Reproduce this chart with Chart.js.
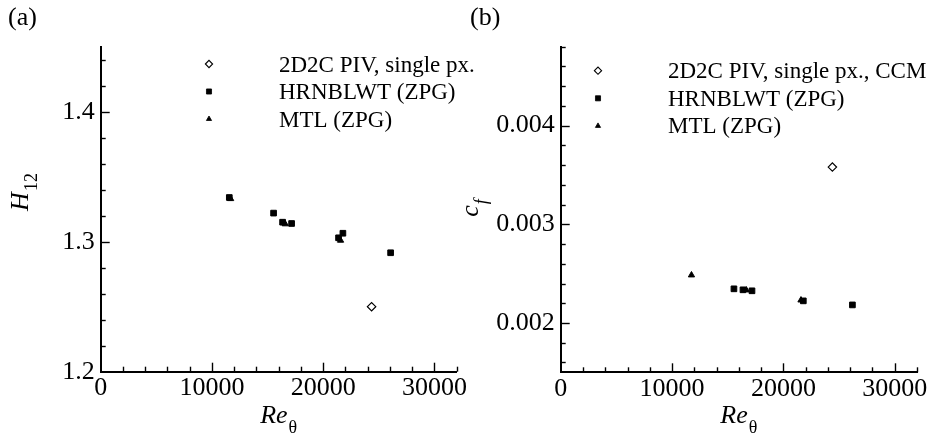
<!DOCTYPE html>
<html><head><meta charset="utf-8">
<script src="https://cdn.jsdelivr.net/npm/chart.js@4.4.0/dist/chart.umd.min.js"></script>
<style>
html,body{margin:0;padding:0;background:#fff;}
body{width:936px;height:437px;position:relative;overflow:hidden;}
canvas{position:absolute;top:0;}
#c1{left:0;} #c2{left:440px;}
</style></head><body>
<canvas id="c1" width="500" height="437"></canvas>
<canvas id="c2" width="496" height="437"></canvas>
<script>
// ---------- data: panel (a) H12 vs Re_theta ----------
const pivA_re  = [24350];
const pivA_H12 = [1.250];
const hrnA_re  = [11560, 15540, 16350, 17160, 21380, 21770, 26060];
const hrnA_H12 = [1.334, 1.322, 1.315, 1.314, 1.303, 1.3065, 1.2915];
const mtlA_re  = [11680, 16590, 21560];
const mtlA_H12 = [1.333, 1.3136, 1.301];

// ---------- data: panel (b) cf vs Re_theta ----------
const pivB_re = [24400];
const pivB_cf = [0.00358];
const hrnB_re = [15560, 16370, 17180, 21790, 26200];
const hrnB_cf = [0.002346, 0.002336, 0.002326, 0.002224, 0.002183];
const mtlB_re = [11745, 16670, 21580];
const mtlB_cf = [0.002485, 0.002333, 0.002231];

// ---------- tick labels / legends ----------
const xTickVals  = [0, 10000, 20000, 30000];
const yTickValsA = [1.2, 1.3, 1.4];
const yTickValsB = [0.002, 0.003, 0.004];
const legendA = ['2D2C PIV, single px.', 'HRNBLWT (ZPG)', 'MTL (ZPG)'];
const legendB = ['2D2C PIV, single px., CCM', 'HRNBLWT (ZPG)', 'MTL (ZPG)'];

const SERIF = '"Liberation Serif", "Times New Roman", serif';
const zip = (xs, ys) => xs.map((x, i) => ({x: x, y: ys[i]}));

const markerStyles = [
  {pointStyle: 'rectRot', radius: 4.2, borderWidth: 1.2, backgroundColor: '#fff', borderColor: '#000'},
  {pointStyle: 'rect', radius: 4, borderWidth: 1, backgroundColor: '#000', borderColor: '#000'},
  {pointStyle: 'triangle', radius: 3.6, borderWidth: 1, backgroundColor: '#000', borderColor: '#000'}
];
const legendMarkers = [
  {pointStyle: 'rectRot', radius: 3.6, borderWidth: 1.1, backgroundColor: '#fff', borderColor: '#000'},
  {pointStyle: 'rect', radius: 3.6, borderWidth: 0.8, backgroundColor: '#000', borderColor: '#000'},
  {pointStyle: 'triangle', radius: 3, borderWidth: 0.8, backgroundColor: '#000', borderColor: '#000'}
];

function makeDatasets(sets) {
  return sets.map((d, i) => ({
    data: d, showLine: false,
    pointStyle: markerStyles[i].pointStyle,
    pointRadius: markerStyles[i].radius,
    pointHoverRadius: markerStyles[i].radius,
    pointBorderWidth: markerStyles[i].borderWidth,
    pointBackgroundColor: markerStyles[i].backgroundColor,
    pointBorderColor: markerStyles[i].borderColor
  }));
}

// inward ticks + legend + titles plugin
const decor = {
  id: 'decor',
  afterDraw(chart, args, o) {
    const ctx = chart.ctx, xs = chart.scales.x, ys = chart.scales.y;
    const a = chart.chartArea;
    ctx.save();
    ctx.strokeStyle = '#000';
    ctx.lineWidth = 1.4;
    // x ticks
    const nx = Math.round((xs.max - xs.min) / o.xMinor);
    for (let i = 1; i <= nx; i++) {
      const v = xs.min + i * o.xMinor;
      const isMaj = Math.abs(v / o.xMajor - Math.round(v / o.xMajor)) < 1e-6;
      const px = Math.round(xs.getPixelForValue(v)) + 0.5;
      const len = isMaj ? 9 : 5;
      ctx.beginPath(); ctx.moveTo(px, a.bottom); ctx.lineTo(px, a.bottom - len); ctx.stroke();
    }
    // y ticks
    const y0 = Math.ceil(ys.min / o.yMinor - 1e-6);
    const y1 = Math.floor(ys.max / o.yMinor + 1e-6);
    for (let k = y0; k <= y1; k++) {
      const v = k * o.yMinor;
      const isMaj = Math.abs(v / o.yMajor - Math.round(v / o.yMajor)) < 1e-6;
      const py = Math.round(ys.getPixelForValue(v)) + 0.5;
      if (Math.abs(py - a.bottom) < 2) continue;
      const len = isMaj ? 9 : 5;
      ctx.beginPath(); ctx.moveTo(a.left, py); ctx.lineTo(a.left + len, py); ctx.stroke();
    }
    // legend
    ctx.font = '23px ' + SERIF;
    ctx.textBaseline = 'alphabetic';
    ctx.textAlign = 'left';
    o.legend.forEach((lab, i) => {
      const m = legendMarkers[i];
      const my = o.legY + i * o.legDy;
      ctx.fillStyle = m.backgroundColor; ctx.strokeStyle = m.borderColor; ctx.lineWidth = m.borderWidth;
      Chart.helpers.drawPoint(ctx, {pointStyle: m.pointStyle, radius: m.radius, borderWidth: m.borderWidth, rotation: 0}, o.legMX, my);
      ctx.fillStyle = '#000';
      ctx.fillText(lab, o.legTX, my + 7.5);
    });
    // panel label
    ctx.fillStyle = '#000';
    ctx.font = '26px ' + SERIF;
    ctx.fillText(o.panel, o.panelX, 25);
    // x title: Re_theta
    const cx = (a.left + a.right) / 2;
    ctx.font = 'italic 26px ' + SERIF;
    const wRe = ctx.measureText('Re').width;
    ctx.font = '18px ' + SERIF;
    const wT = ctx.measureText('\u03B8').width;
    const sx = cx - (wRe + 1 + wT) / 2;
    ctx.font = 'italic 26px ' + SERIF;
    ctx.fillText('Re', sx, 423);
    ctx.font = '18px ' + SERIF;
    ctx.fillText('\u03B8', sx + wRe + 1, 433);
    // y title (rotated)
    ctx.save();
    ctx.translate(o.yTitleX, o.yTitleY);
    ctx.rotate(-Math.PI / 2);
    ctx.font = 'italic 26px ' + SERIF;
    const wM = ctx.measureText(o.yMain).width;
    const subFont = (o.ySubItalic ? 'italic ' : '') + '18px ' + SERIF;
    ctx.font = subFont;
    const wS = ctx.measureText(o.ySub).width;
    const st = -(wM + wS + 1) / 2;
    ctx.font = 'italic 26px ' + SERIF;
    ctx.fillText(o.yMain, st, 0);
    ctx.font = subFont;
    ctx.fillText(o.ySub, st + wM + 1, 9);
    ctx.restore();
    ctx.restore();
  }
};

function makeChart(id, sets, cfg) {
  const tickFont = {family: SERIF, size: 26};
  return new Chart(document.getElementById(id), {
    type: 'scatter',
    data: {datasets: makeDatasets(sets)},
    plugins: [decor],
    options: {
      responsive: false, animation: false, devicePixelRatio: 1,
      events: [],
      layout: {padding: {top: 46.7, right: cfg.padRight, left: 0, bottom: 0}},
      plugins: {legend: {display: false}, tooltip: {enabled: false}, decor: cfg.decor},
      scales: {
        x: {
          type: 'linear', position: 'bottom', min: 0, max: 32000,
          grid: {display: false, drawTicks: false},
          border: {display: true, color: '#000', width: 2},
          ticks: {font: tickFont, color: '#000', padding: 1, autoSkip: false, maxRotation: 0,
                  callback: v => String(v)},
          afterBuildTicks: s => { s.ticks = xTickVals.map(v => ({value: v})); },
          afterFit: s => { s.height = cfg.xH; }
        },
        y: {
          type: 'linear', position: 'left', min: cfg.yMin, max: cfg.yMax,
          grid: {display: false, drawTicks: false},
          border: {display: true, color: '#000', width: 2},
          ticks: {font: tickFont, color: '#000', padding: 6, autoSkip: false,
                  callback: v => v.toFixed(cfg.dec)},
          afterBuildTicks: s => { s.ticks = cfg.yTicks.map(v => ({value: v})); },
          afterFit: s => { s.width = cfg.yW; }
        }
      }
    }
  });
}

makeChart('c1', [zip(pivA_re, pivA_H12), zip(hrnA_re, hrnA_H12), zip(mtlA_re, mtlA_H12)], {
  padRight: 43.3, xH: 65.3, yW: 100.7, yMin: 1.2, yMax: 1.45, dec: 1, yTicks: yTickValsA,
  decor: {xMinor: 2000, xMajor: 10000, yMinor: 0.02, yMajor: 0.1,
    legend: legendA, legMX: 209, legTX: 279, legY: 64, legDy: 27.5,
    panel: '(a)', panelX: 8, yTitleX: 28, yTitleY: 192, yMain: 'H', ySub: '12', ySubItalic: false}
});

makeChart('c2', [zip(pivB_re, pivB_cf), zip(hrnB_re, hrnB_cf), zip(mtlB_re, mtlB_cf)], {
  padRight: 19, xH: 64.7, yW: 120.7, yMin: 0.0015, yMax: 0.0048, dec: 3, yTicks: yTickValsB,
  decor: {xMinor: 2000, xMajor: 10000, yMinor: 0.0002, yMajor: 0.001,
    legend: legendB, legMX: 158, legTX: 228, legY: 70.7, legDy: 27.6,
    panel: '(b)', panelX: 30, yTitleX: 38, yTitleY: 208, yMain: 'c', ySub: 'f', ySubItalic: true}
});
</script>
</body></html>
